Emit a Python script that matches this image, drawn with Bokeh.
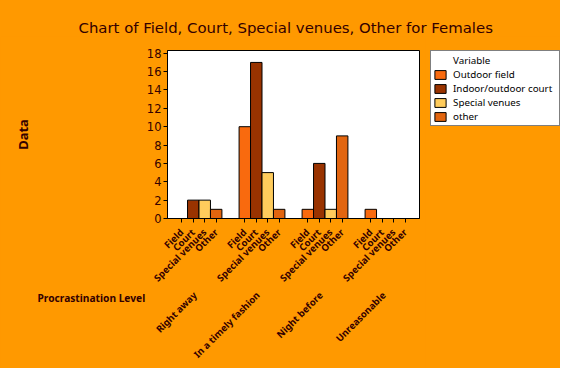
from math import pi
from bokeh.plotting import figure
from bokeh.models import (Legend, LegendItem, Label, FixedTicker, Range1d,
                          ColumnDataSource, LinearAxis)
from bokeh.layouts import row, column
from bokeh.embed import file_html
from bokeh.resources import INLINE

# ---- data ----
title_text = "Chart of Field, Court, Special venues, Other for Females"
groups = ["Right away", "In a timely fashion", "Night before", "Unreasonable"]
subcats = ["Field", "Court", "Special venues", "Other"]
series_names = ["Outdoor field", "Indoor/outdoor court", "Special venues", "other"]
legend_title = "Variable"
outdoor_field = [0, 10, 1, 1]
indoor_court = [2, 17, 6, 0]
special_venues = [2, 5, 1, 0]
other = [1, 1, 9, 0]
y_ticks = [0, 2, 4, 6, 8, 10, 12, 14, 16, 18]

series_values = [outdoor_field, indoor_court, special_venues, other]
colors = ["#F96A0E", "#993300", "#FFCC5C", "#E2650F"]
TXT = "#330000"
BG = "#FF9900"

GROUP_STEP = 11   # 4 bars (width 2) + gap
BAR_W = 2
GROUP_LABEL_POS = 2.3   # where the group name ends, within a group

TOP_H = 36
MAIN_H = 332
LBL = "9.5px"
NAN = float("nan")


def bare(width, height, **kw):
    f = figure(width=width, height=height, output_backend="svg", toolbar_location=None,
               x_axis_location=None, y_axis_location=None,
               x_range=Range1d(0, 1), y_range=Range1d(0, 1), **kw)
    f.background_fill_color = BG
    f.border_fill_color = BG
    f.outline_line_color = None
    f.grid.visible = False
    return f


# ---- title strip ----
pt = bare(560, TOP_H, min_border=0)
pt.add_layout(Label(x=78, y=9, x_units="screen", y_units="screen", text=title_text,
                    text_align="left", text_baseline="middle", text_font="DejaVu Sans",
                    text_font_size="14.9px", text_color=TXT))

# ---- main chart ----
p = figure(width=425, height=MAIN_H, output_backend="svg", toolbar_location=None,
           x_range=Range1d(-2.5, 41.5), y_range=Range1d(0, 18.3),
           min_border_left=167, min_border_right=6, min_border_top=12,
           min_border_bottom=149)
p.background_fill_color = "white"
p.border_fill_color = BG
p.outline_line_color = "black"
p.grid.visible = False

for j, (name, vals) in enumerate(zip(series_names, series_values)):
    src = ColumnDataSource(dict(x=[g * GROUP_STEP + BAR_W * j for g in range(len(groups))],
                                top=vals))
    p.vbar(x="x", top="top", width=BAR_W, source=src, fill_color=colors[j],
           line_color="black", line_width=1)

# y axis
ya = p.yaxis[0]
ya.ticker = FixedTicker(ticks=y_ticks)
ya.major_label_text_font = "DejaVu Sans"
ya.major_label_text_font_size = "11.5px"
ya.major_label_text_color = TXT
ya.major_tick_out = 4
ya.major_tick_in = 0
ya.minor_tick_out = 0
ya.minor_tick_in = 0
ya.axis_line_color = "black"
ya.major_tick_line_color = "black"
ya.major_label_standoff = 2
ya.axis_label = "Data"
ya.axis_label_text_font = "Noto Sans"
ya.axis_label_text_font_style = "bold"
ya.axis_label_text_font_size = "13px"
ya.axis_label_text_color = TXT
ya.axis_label_standoff = 112

# x axis (sub categories)
xt = [g * GROUP_STEP + BAR_W * j for g in range(len(groups)) for j in range(len(subcats))]
xa = p.xaxis[0]
xa.ticker = FixedTicker(ticks=xt)
xa.major_label_overrides = {g * GROUP_STEP + BAR_W * j: subcats[j]
                            for g in range(len(groups)) for j in range(len(subcats))}
xa.major_label_orientation = pi / 4
xa.major_label_text_font = "Noto Sans"
xa.major_label_text_font_style = "bold"
xa.major_label_text_font_size = LBL
xa.major_label_text_color = TXT
xa.major_tick_out = 4
xa.major_tick_in = 0
xa.minor_tick_out = 0
xa.minor_tick_in = 0
xa.axis_line_color = "black"
xa.major_label_standoff = 8

# x axis (groups)
gt = [g * GROUP_STEP + GROUP_LABEL_POS for g in range(len(groups))]
ga = LinearAxis(ticker=FixedTicker(ticks=gt),
                major_label_overrides={t: name for t, name in zip(gt, groups)})
ga.major_label_orientation = pi / 4
ga.major_label_text_font = "Noto Sans"
ga.major_label_text_font_style = "bold"
ga.major_label_text_font_size = LBL
ga.major_label_text_color = TXT
ga.axis_line_color = None
ga.major_tick_line_color = None
ga.minor_tick_line_color = None
ga.major_tick_out = 0
ga.major_tick_in = 0
ga.minor_tick_out = 0
ga.minor_tick_in = 0
ga.major_label_standoff = 2
p.add_layout(ga, "below")

# x axis title, placed like the original (left of the plot area)
p.add_layout(Label(x=-130, y=-247, x_units="screen", y_units="screen",
                   text="Procrastination Level", text_align="left", text_baseline="middle",
                   text_font="Noto Sans", text_font_style="bold", text_font_size="10.2px",
                   text_color=TXT), "above")

# ---- legend panel ----
pl = bare(135, MAIN_H, min_border_left=5, min_border_right=0)
# legend-only swatch renderers (a single NaN point: nothing is drawn in the plot)
head = pl.vbar(x=[NAN], top=[NAN], width=1, fill_alpha=0, line_alpha=0)
swatches = [pl.vbar(x=[NAN], top=[NAN], width=1, fill_color=c, line_color="black")
            for c in colors]
items = [LegendItem(label=legend_title, renderers=[head])]
items += [LegendItem(label=n, renderers=[r]) for n, r in zip(series_names, swatches)]
legend = Legend(items=items, location="top_left")
legend.background_fill_color = "white"
legend.background_fill_alpha = 1
legend.border_line_color = "black"
legend.border_line_width = 1
legend.label_text_font = "Noto Sans"
legend.label_text_font_size = "9.8px"
legend.label_text_color = "black"
legend.glyph_width = 14
legend.glyph_height = 11
legend.label_height = 14
legend.label_width = 104
legend.label_standoff = 6
legend.spacing = 0
legend.padding = 2
legend.margin = 0
pl.add_layout(legend)

layout = column(pt, row(p, pl, styles={"background-color": BG}),
                styles={"background-color": BG})
open("out.html", "w").write(file_html(layout, INLINE))
